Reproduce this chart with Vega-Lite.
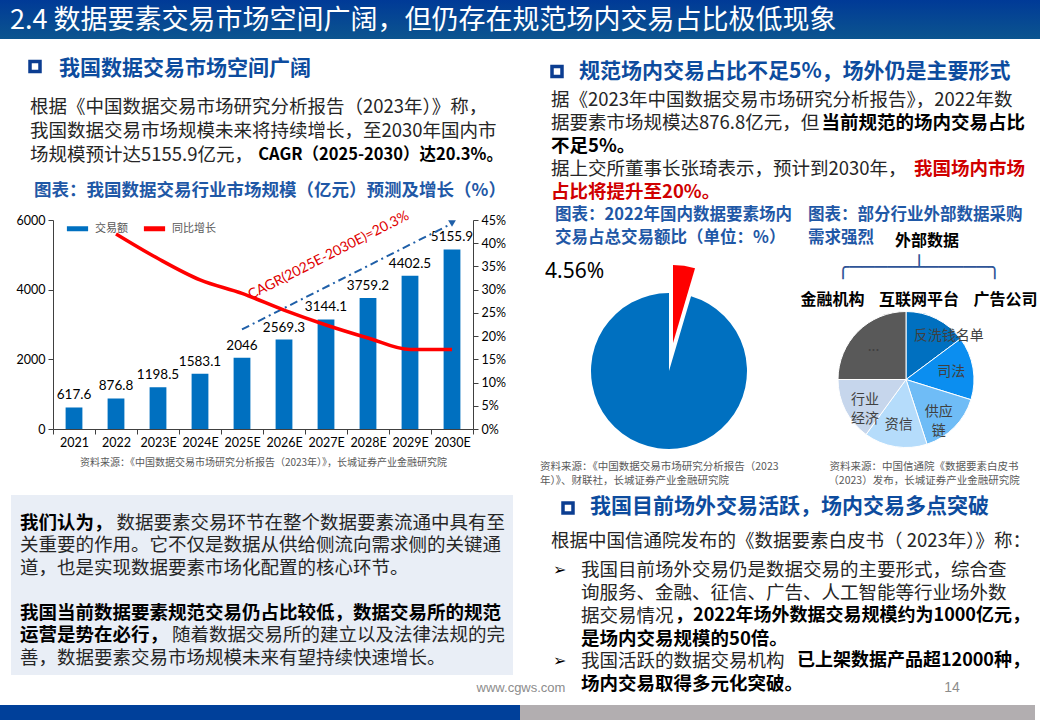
{
"$schema":"https://vega.github.io/schema/vega-lite/v6.json",
"padding":0,
"background":"#ffffff",
"spacing":0,
"resolve":{"scale":{"color":"independent","theta":"independent"},"legend":{"color":"independent"}},
"config":{"view":{"stroke":null},"font":"Noto Sans CJK SC"},
"vconcat":[
{
 "width":1040,"height":39,
 "data":{"values":[{"text":"2.4 数据要素交易市场空间广阔，但仍存在规范场内交易占比极低现象"}]},
 "layer":[
  {"mark":{"type":"rect","color":{"gradient":"linear","x1":0,"y1":0,"x2":0,"y2":1,"stops":[{"offset":0,"color":"#003a97"},{"offset":1,"color":"#0c558f"}]}},"encoding":{}},
  {"mark":{"type":"text","align":"left","baseline":"middle","fontSize":27,"color":"#ffffff","dx":10,"dy":1},"encoding":{"x":{"datum":0,"type":"quantitative","scale":{"domain":[0,1]},"axis":null},"text":{"field":"text"}}}
 ]
},
{
 "spacing":0,
 "resolve":{"scale":{"color":"independent","theta":"independent"},"legend":{"color":"independent"}},
 "hconcat":[
  {"spacing":0,
   "resolve":{"scale":{"color":"independent","theta":"independent"},"legend":{"color":"independent"}},
   "vconcat":[
   {"width":530,"height":55,"layer":[
    {"data":{"values":[{"item":"bullet"}]},"mark":{"type":"point","shape":"square","filled":false,"size":100,"strokeWidth":3.5,"color":"#0b3d91","opacity":1,"xOffset":35,"yOffset":0},"encoding":{"x":{"datum":0,"type":"quantitative","scale":{"domain":[0,1]},"axis":null}}},
    {"data":{"values":[{"text":"我国数据交易市场空间广阔"}]},"mark":{"type":"text","align":"left","fontSize":21,"fontWeight":"bold","color":"#0d4c9e","dx":59,"dy":2},"encoding":{"x":{"datum":0,"type":"quantitative","scale":{"domain":[0,1]},"axis":null},"text":{"field":"text"}}}
   ]},
   {"width":530,"height":72,
    "encoding":{"y":{"field":"line","type":"ordinal","scale":{"type":"point","domain":[1,2,3],"padding":0.5},"axis":null},"text":{"field":"text"}},
    "layer":[
     {"data":{"values":[{"line":1,"text":"根据《中国数据交易市场研究分析报告（2023年）》称，"},{"line":2,"text":"我国数据交易市场规模未来将持续增长，至2030年国内市"},{"line":3,"text":"场规模预计达5155.9亿元，"}]},"mark":{"type":"text","align":"left","fontSize":18.5,"color":"#262626","dx":30,"dy":1},"encoding":{"x":{"datum":0,"type":"quantitative","scale":{"domain":[0,1]},"axis":null}}},
     {"data":{"values":[{"line":3,"text":"CAGR（2025-2030）达20.3%。"}]},"mark":{"type":"text","align":"right","fontSize":16.5,"fontWeight":"bold","color":"#000000","dx":-27,"dy":1},"encoding":{"x":{"datum":1,"type":"quantitative","scale":{"domain":[0,1]},"axis":null}}}
    ]},
   {"width":530,"height":42,"data":{"values":[{"text":"图表：我国数据交易行业市场规模（亿元）预测及增长（%）"}]},"mark":{"type":"text","fontSize":17.5,"fontWeight":"bold","color":"#1f58a6","dx":5,"dy":4},"encoding":{"x":{"datum":0.5,"type":"quantitative","scale":{"domain":[0,1]},"axis":null},"text":{"field":"text"}}},
   {"spacing":0,"bounds":"flush",
    "hconcat":[
    {"width":53,"height":209,"data":{"values":[{}]},"mark":{"type":"text","text":""},"encoding":{}},
    {"width":420,"height":209,
     "data":{"values":[
      {"year":"2021","amount":617.6,"growth":null},
      {"year":"2022","amount":876.8,"growth":0.420},
      {"year":"2023E","amount":1198.5,"growth":0.367},
      {"year":"2024E","amount":1583.1,"growth":0.321},
      {"year":"2025E","amount":2046,"growth":0.292},
      {"year":"2026E","amount":2569.3,"growth":0.256},
      {"year":"2027E","amount":3144.1,"growth":0.224},
      {"year":"2028E","amount":3759.2,"growth":0.196},
      {"year":"2029E","amount":4402.5,"growth":0.171},
      {"year":"2030E","amount":5155.9,"growth":0.171}
     ]},
     "encoding":{"x":{"field":"year","type":"ordinal","sort":null,"scale":{"paddingInner":0,"paddingOuter":0},
       "axis":{"title":"资料来源：《中国数据交易市场研究分析报告（2023年）》，长城证券产业金融研究院","titleFontSize":10,"titleFontWeight":"normal","titleColor":"#595959","titlePadding":9,"labelAngle":0,"labelFontSize":12.5,"labelFont":"Lato","labelColor":"#000000","tickBand":"extent","tickSize":5,"domainColor":"#404040","tickColor":"#404040","labelPadding":2}}},
     "layer":[
      {"layer":[
        {"mark":{"type":"bar","width":{"band":0.4}},"encoding":{
          "y":{"field":"amount","type":"quantitative","scale":{"domain":[0,6000]},"axis":{"title":null,"values":[0,1000,2000,3000,4000,5000,6000],"format":"d","labelOverlap":false,"grid":false,"domainColor":"#404040","tickColor":"#404040","tickSize":5,"labelFontSize":12.5,"labelFont":"Lato","labelColor":"#000000","labelPadding":3}},
          "color":{"datum":"交易额","type":"nominal","scale":{"domain":["交易额","同比增长"],"range":["#0070c0","#ff0000"]},
            "legend":{"orient":"none","legendX":64,"legendY":-5,"direction":"horizontal","title":null,"symbolType":"stroke","symbolStrokeWidth":5,"symbolSize":450,"labelFontSize":11,"labelColor":"#595959","columnPadding":5,"padding":0}}}},
        {"mark":{"type":"text","dy":-12,"fontSize":13.5,"font":"Lato","color":"#000000"},"encoding":{"y":{"field":"amount","type":"quantitative"},"text":{"field":"amount","type":"nominal"}}},
        {"data":{"values":[{"year":"2025E","amount":2860},{"year":"2030E","amount":5900}]},"mark":{"type":"line","strokeDash":[8,4,2,4],"strokeWidth":2,"color":"#1f5fa8"},"encoding":{"y":{"field":"amount","type":"quantitative"}}},
        {"data":{"values":[{"year":"2030E","amount":5900}]},"mark":{"type":"point","shape":"triangle-down","filled":true,"size":60,"color":"#1f5fa8","opacity":1},"encoding":{"y":{"field":"amount","type":"quantitative"}}},
        {"data":{"values":[{"year":"2027E","amount":4940,"label":"CAGR(2025E-2030E)=20.3%"}]},"mark":{"type":"text","angle":333,"fontSize":14,"font":"Lato","color":"#e00000","dx":3},"encoding":{"y":{"field":"amount","type":"quantitative"},"text":{"field":"label"}}}
      ]},
      {"mark":{"type":"line","interpolate":"monotone","strokeWidth":3.5},"encoding":{
        "y":{"field":"growth","type":"quantitative","scale":{"domain":[0,0.45]},"axis":{"orient":"right","title":null,"values":[0,0.05,0.1,0.15,0.2,0.25,0.3,0.35,0.4,0.45],"format":".0%","labelOverlap":false,"grid":false,"domainColor":"#404040","tickColor":"#404040","tickSize":5,"labelFontSize":12.5,"labelFont":"Lato","labelColor":"#000000","labelPadding":3}},
        "color":{"datum":"同比增长","type":"nominal"}}}
     ],
     "resolve":{"scale":{"y":"independent"}}
    }
   ]}
  ]},
  {"spacing":0,
   "resolve":{"scale":{"color":"independent","theta":"independent"},"legend":{"color":"independent"}},
   "vconcat":[
   {"width":510,"height":49,"layer":[
    {"data":{"values":[{"item":"bullet"}]},"mark":{"type":"point","shape":"square","filled":false,"size":100,"strokeWidth":3.5,"color":"#0b3d91","opacity":1,"xOffset":27,"yOffset":8},"encoding":{"x":{"datum":0,"type":"quantitative","scale":{"domain":[0,1]},"axis":null}}},
    {"data":{"values":[{"text":"规范场内交易占比不足5%，场外仍是主要形式"}]},"mark":{"type":"text","align":"left","fontSize":21,"fontWeight":"bold","color":"#0d4c9e","dx":49,"dy":8},"encoding":{"x":{"datum":0,"type":"quantitative","scale":{"domain":[0,1]},"axis":null},"text":{"field":"text"}}}
   ]},
   {"width":510,"height":115,
    "encoding":{"y":{"field":"line","type":"ordinal","scale":{"type":"point","domain":[1,2,3,4,5],"padding":0.5},"axis":null},"text":{"field":"text"}},
    "layer":[
     {"data":{"values":[{"line":1,"text":"据《2023年中国数据交易市场研究分析报告》，2022年数"},{"line":2,"text":"据要素市场规模达876.8亿元，但"},{"line":4,"text":"据上交所董事长张琦表示，预计到2030年，"}]},"mark":{"type":"text","align":"left","fontSize":18.5,"color":"#262626","dx":21},"encoding":{"x":{"datum":0,"type":"quantitative","scale":{"domain":[0,1]},"axis":null}}},
     {"data":{"values":[{"line":3,"text":"不足5%。"}]},"mark":{"type":"text","align":"left","fontSize":18.5,"fontWeight":"bold","color":"#000000","dx":21},"encoding":{"x":{"datum":0,"type":"quantitative","scale":{"domain":[0,1]},"axis":null}}},
     {"data":{"values":[{"line":2,"text":"当前规范的场内交易占比"}]},"mark":{"type":"text","align":"right","fontSize":18.5,"fontWeight":"bold","color":"#000000","dx":-15},"encoding":{"x":{"datum":1,"type":"quantitative","scale":{"domain":[0,1]},"axis":null}}},
     {"data":{"values":[{"line":5,"text":"占比将提升至20%。"}]},"mark":{"type":"text","align":"left","fontSize":18.5,"fontWeight":"bold","color":"#d00000","dx":21},"encoding":{"x":{"datum":0,"type":"quantitative","scale":{"domain":[0,1]},"axis":null}}},
     {"data":{"values":[{"line":4,"text":"我国场内市场"}]},"mark":{"type":"text","align":"right","fontSize":18.5,"fontWeight":"bold","color":"#d00000","dx":-15},"encoding":{"x":{"datum":1,"type":"quantitative","scale":{"domain":[0,1]},"axis":null}}}
    ]},
   {"spacing":0,"bounds":"flush",
    "hconcat":[
    {"width":278,"height":46,"data":{"values":[{"line":1,"text":"图表：2022年国内数据要素场内"},{"line":2,"text":"交易占总交易额比（单位：%）"}]},"mark":{"type":"text","align":"left","fontSize":16.5,"fontWeight":"bold","color":"#1f58a6","dx":25},"encoding":{"x":{"datum":0,"type":"quantitative","scale":{"domain":[0,1]},"axis":null},"y":{"field":"line","type":"ordinal","scale":{"type":"point","domain":[1,2],"padding":0.5},"axis":null},"text":{"field":"text"}}},
    {"width":232,"height":46,
     "encoding":{"y":{"field":"line","type":"ordinal","scale":{"type":"point","domain":[1,2],"padding":0.5},"axis":null},"text":{"field":"text"}},
     "layer":[
      {"data":{"values":[{"line":1,"text":"图表：部分行业外部数据采购"},{"line":2,"text":"需求强烈"}]},"mark":{"type":"text","align":"left","fontSize":16.5,"fontWeight":"bold","color":"#1f58a6"},"encoding":{"x":{"datum":0,"type":"quantitative","scale":{"domain":[0,1]},"axis":null}}},
      {"data":{"values":[{"line":2,"text":"外部数据"}]},"mark":{"type":"text","align":"center","fontSize":16,"fontWeight":"bold","color":"#000000","dx":3,"dy":3},"encoding":{"x":{"datum":0.5,"type":"quantitative","scale":{"domain":[0,1]},"axis":null}}}
     ]}
   ]},
   {"spacing":0,
    "resolve":{"scale":{"color":"independent","theta":"independent"},"legend":{"color":"independent"}},
    "hconcat":[
    {"width":268,"height":204,
     "data":{"values":[{"k":"场内交易","v":0.0456},{"k":"场外交易","v":0.9544}]},
     "layer":[
      {"mark":{"type":"arc","outerRadius":78,"xOffset":5,"yOffset":20},"encoding":{"theta":{"field":"v","type":"quantitative","stack":true},"order":{"field":"v","type":"quantitative"},"color":{"field":"k","type":"nominal","scale":{"domain":["场内交易","场外交易"],"range":["#ff0000","#0070c0"]},"legend":null},"opacity":{"condition":{"test":"datum.k === '场内交易'","value":0},"value":1}}},
      {"mark":{"type":"arc","outerRadius":78,"xOffset":9,"yOffset":-8},"encoding":{"theta":{"field":"v","type":"quantitative","stack":true},"order":{"field":"v","type":"quantitative"},"color":{"field":"k","type":"nominal","scale":{"domain":["场内交易","场外交易"],"range":["#ff0000","#0070c0"]},"legend":null},"opacity":{"condition":{"test":"datum.k === '场内交易'","value":1},"value":0}}},
      {"transform":[{"filter":"datum.k === '场内交易'"}],"mark":{"type":"text","align":"left","fontSize":21,"font":"Noto Sans","color":"#000000","dx":15,"dy":-79},"encoding":{"x":{"datum":0,"type":"quantitative","scale":{"domain":[0,1]},"axis":null},"text":{"field":"v","type":"quantitative","format":".2%"}}}
     ]},
    {"spacing":0,"bounds":"flush",
     "resolve":{"scale":{"color":"independent","theta":"independent"},"legend":{"color":"independent"}},
     "vconcat":[
     {"width":242,"height":37,"data":{"values":[{"text":"╭─────┴─────╮"}]},"mark":{"type":"text","font":"DejaVu Sans Mono","fontSize":21,"color":"#2f5597"},"encoding":{"x":{"datum":0.5,"type":"quantitative","scale":{"domain":[0,1]},"axis":null},"text":{"field":"text"}}},
     {"width":242,"height":28,"data":{"values":[{"text":"金融机构"},{"text":"互联网平台"},{"text":"广告公司"}]},"mark":{"type":"text","fontSize":16,"fontWeight":"bold","color":"#000000"},"encoding":{"x":{"field":"text","type":"nominal","sort":null,"scale":{"type":"point","padding":0.4},"axis":null},"text":{"field":"text"}}},
     {"width":216,"height":139,
      "data":{"values":[{"i":1,"k":"反洗钱名单","label":"反洗钱名单","v":14.8},{"i":2,"k":"司法","label":"司法","v":15},{"i":3,"k":"供应链","label":"供应\n链","v":15.2},{"i":4,"k":"资信","label":"资信","v":15},{"i":5,"k":"行业经济","label":"行业\n经济","v":15},{"i":6,"k":"其他","label":"...","v":25}]},
      "encoding":{"theta":{"field":"v","type":"quantitative","stack":true},"order":{"field":"i","type":"quantitative"}},
      "layer":[
       {"mark":{"type":"arc","outerRadius":68,"stroke":"#ffffff","strokeWidth":1,"yOffset":-4},"encoding":{"color":{"field":"k","type":"nominal","scale":{"domain":["反洗钱名单","司法","供应链","资信","行业经济","其他"],"range":["#0070c0","#0b8ef0","#6fbcf6","#b5dcfb","#c6d6ec","#595959"]},"legend":null}}},
       {"mark":{"type":"text","radius":46,"fontSize":14,"color":"#404040","lineBreak":"\n","lineHeight":19,"yOffset":-4},"encoding":{"text":{"condition":{"test":"datum.k === '反洗钱名单'","value":""},"field":"label"}}},
       {"mark":{"type":"text","radius":46,"fontSize":14,"color":"#404040","yOffset":-4,"dx":22,"dy":-2},"encoding":{"text":{"condition":{"test":"datum.k === '反洗钱名单'","field":"label"},"value":""}}}
      ]}
    ]}
   ]},
   {"spacing":0,"bounds":"flush",
    "hconcat":[
    {"width":278,"height":42,"data":{"values":[{"line":1,"text":"资料来源：《中国数据交易市场研究分析报告（2023"},{"line":2,"text":"年）》、财联社，长城证券产业金融研究院"}]},"mark":{"type":"text","align":"left","fontSize":10.5,"color":"#595959","dx":10},"encoding":{"x":{"datum":0,"type":"quantitative","scale":{"domain":[0,1]},"axis":null},"y":{"field":"line","type":"ordinal","scale":{"type":"point","domain":[1,2],"padding":1.1},"axis":null},"text":{"field":"text"}}},
    {"width":232,"height":42,"data":{"values":[{"line":1,"text":"资料来源：中国信通院《数据要素白皮书"},{"line":2,"text":"（2023）发布，长城证券产业金融研究院"}]},"mark":{"type":"text","align":"center","fontSize":10.5,"color":"#595959"},"encoding":{"x":{"datum":0.5,"type":"quantitative","scale":{"domain":[0,1]},"axis":null},"y":{"field":"line","type":"ordinal","scale":{"type":"point","domain":[1,2],"padding":1.1},"axis":null},"text":{"field":"text"}}}
   ]}
  ]}
 ]
},
{
 "spacing":0,"bounds":"flush",
 "hconcat":[
  {"width":11,"height":180,"data":{"values":[{}]},"mark":{"type":"text","text":""},"encoding":{}},
  {"width":502,"height":180,"layer":[
   {"data":{"values":[{"item":"box"}]},"mark":{"type":"rect","color":"#e9eef6"},"encoding":{}},
   {"encoding":{"y":{"field":"line","type":"ordinal","scale":{"type":"point","domain":[1,2,3,4,5,6,7],"padding":1},"axis":null},"text":{"field":"text"}},
    "layer":[
     {"data":{"values":[{"line":2,"text":"关重要的作用。它不仅是数据从供给侧流向需求侧的关键通"},{"line":3,"text":"道，也是实现数据要素市场化配置的核心环节。"},{"line":7,"text":"善，数据要素交易市场规模未来有望持续快速增长。"}]},"mark":{"type":"text","align":"left","fontSize":18.5,"color":"#262626","dx":9,"dy":5},"encoding":{"x":{"datum":0,"type":"quantitative","scale":{"domain":[0,1]},"axis":null}}},
     {"data":{"values":[{"line":1,"text":"我们认为，"},{"line":5,"text":"我国当前数据要素规范交易仍占比较低，数据交易所的规范"},{"line":6,"text":"运营是势在必行，"}]},"mark":{"type":"text","align":"left","fontSize":18.5,"fontWeight":"bold","color":"#000000","dx":9,"dy":5},"encoding":{"x":{"datum":0,"type":"quantitative","scale":{"domain":[0,1]},"axis":null}}},
     {"data":{"values":[{"line":1,"text":"数据要素交易环节在整个数据要素流通中具有至"},{"line":6,"text":"随着数据交易所的建立以及法律法规的完"}]},"mark":{"type":"text","align":"right","fontSize":18.5,"color":"#262626","dx":-8,"dy":5},"encoding":{"x":{"datum":1,"type":"quantitative","scale":{"domain":[0,1]},"axis":null}}}
    ]}
  ]},
  {"width":527,"height":210,
   "encoding":{"y":{"field":"line","type":"ordinal","scale":{"type":"point","domain":[1,2,3,4,5,6,7,8,9],"padding":0.615},"axis":null}},
   "layer":[
    {"data":{"values":[{"line":1}]},"mark":{"type":"point","shape":"square","filled":false,"size":100,"strokeWidth":3.5,"color":"#0b3d91","opacity":1,"xOffset":55,"yOffset":-1},"encoding":{"x":{"datum":0,"type":"quantitative","scale":{"domain":[0,1]},"axis":null}}},
    {"data":{"values":[{"line":1,"text":"我国目前场外交易活跃，场内交易多点突破"}]},"mark":{"type":"text","align":"left","fontSize":21,"fontWeight":"bold","color":"#0d4c9e","dx":77,"dy":-2},"encoding":{"x":{"datum":0,"type":"quantitative","scale":{"domain":[0,1]},"axis":null},"text":{"field":"text"}}},
    {"data":{"values":[{"line":3,"text":"根据中国信通院发布的《数据要素白皮书（ 2023年）》称："}]},"mark":{"type":"text","align":"left","fontSize":18.5,"color":"#262626","dx":38,"dy":-13},"encoding":{"x":{"datum":0,"type":"quantitative","scale":{"domain":[0,1]},"axis":null},"text":{"field":"text"}}},
    {"data":{"values":[{"line":4,"text":"➢"},{"line":8,"text":"➢"}]},"mark":{"type":"text","align":"left","fontSize":16,"font":"DejaVu Sans","color":"#000000","dx":40,"dy":-7},"encoding":{"x":{"datum":0,"type":"quantitative","scale":{"domain":[0,1]},"axis":null},"text":{"field":"text"}}},
    {"data":{"values":[{"line":4,"text":"我国目前场外交易仍是数据交易的主要形式，综合查"},{"line":5,"text":"询服务、金融、征信、广告、人工智能等行业场外数"},{"line":6,"text":"据交易情况"},{"line":8,"text":"我国活跃的数据交易机构"}]},"mark":{"type":"text","align":"left","fontSize":18.5,"color":"#262626","dx":68,"dy":-7},"encoding":{"x":{"datum":0,"type":"quantitative","scale":{"domain":[0,1]},"axis":null},"text":{"field":"text"}}},
    {"data":{"values":[{"line":7,"text":"是场内交易规模的50倍。"},{"line":9,"text":"场内交易取得多元化突破。"}]},"mark":{"type":"text","align":"left","fontSize":18.5,"fontWeight":"bold","color":"#000000","dx":68,"dy":-7},"encoding":{"x":{"datum":0,"type":"quantitative","scale":{"domain":[0,1]},"axis":null},"text":{"field":"text"}}},
    {"data":{"values":[{"line":6,"text":"，2022年场外数据交易规模约为1000亿元，"},{"line":8,"text":"已上架数据产品超12000种，"}]},"mark":{"type":"text","align":"right","fontSize":18,"fontWeight":"bold","color":"#000000","dx":-10,"dy":-7},"encoding":{"x":{"datum":1,"type":"quantitative","scale":{"domain":[0,1]},"axis":null},"text":{"field":"text"}}},
    {"data":{"values":[{"line":9,"text":"www.cgws.com"}]},"mark":{"type":"text","align":"center","fontSize":13,"font":"Liberation Sans","color":"#8c8c8c","dx":8,"dy":-3},"encoding":{"x":{"datum":0,"type":"quantitative","scale":{"domain":[0,1]},"axis":null},"text":{"field":"text"}}},
    {"data":{"values":[{"line":9,"text":"14"}]},"mark":{"type":"text","align":"center","fontSize":14,"font":"Liberation Sans","color":"#8c8c8c","dx":-88,"dy":-3},"encoding":{"x":{"datum":1,"type":"quantitative","scale":{"domain":[0,1]},"axis":null},"text":{"field":"text"}}}
   ]}
 ]
},
{
 "spacing":0,"bounds":"flush",
 "hconcat":[
  {"width":520,"height":15,"data":{"values":[{"item":"bar"}]},"mark":{"type":"rect","color":"#00409a"},"encoding":{}},
  {"width":515,"height":15,"data":{"values":[{"item":"bar"}]},"mark":{"type":"rect","color":"#b2aeb0"},"encoding":{}},
  {"width":5,"height":15,"data":{"values":[{}]},"mark":{"type":"text","text":""},"encoding":{}}
 ]
}
]
}
